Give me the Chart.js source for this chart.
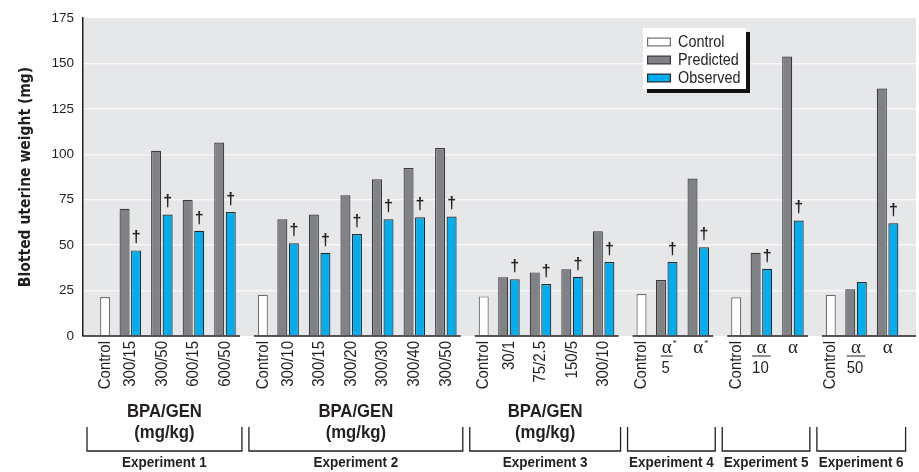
<!DOCTYPE html>
<html>
<head>
<meta charset="utf-8">
<script src="https://cdn.jsdelivr.net/npm/chart.js@4"></script>
<style>
html,body{margin:0;padding:0;background:#ffffff;}
#wrap{width:919px;height:472px;position:relative;}
canvas{display:block;}
</style>
</head>
<body>
<div id="wrap"><canvas id="chart" width="919" height="472"></canvas></div>
<script>
// ---------------- data ----------------
const experimentNames = ['Experiment 1', 'Experiment 2', 'Experiment 3', 'Experiment 4', 'Experiment 5', 'Experiment 6'];
const doseCaption = ['BPA/GEN', 'BPA/GEN', 'BPA/GEN', '', '', ''];
const doseUnit = '(mg/kg)';

const exp1Labels = ['Control', '300/15', '300/50', '600/15', '600/50'];
const exp2Labels = ['Control', '300/10', '300/15', '300/20', '300/30', '300/40', '300/50'];
const exp3Labels = ['Control', '30/1', '75/2.5', '150/5', '300/10'];
const exp4Labels = ['Control', 'α*/5', 'α*'];
const exp5Labels = ['Control', 'α/10', 'α'];
const exp6Labels = ['Control', 'α/50', 'α'];

const controlValues = [21.5, 22.7, 21.8, 23.1, 21.3, 22.7];

const predicted1 = [70.0, 101.9, 75.0, 106.5];
const observed1  = [47.1, 66.9, 57.9, 68.2];
const predicted2 = [64.2, 66.9, 77.4, 86.2, 92.4, 103.4];
const observed2  = [51.0, 45.8, 56.1, 64.2, 65.3, 65.8];
const predicted3 = [32.3, 35.0, 36.7, 57.6];
const observed3  = [31.2, 28.6, 32.6, 40.7];
const predicted4 = [30.8, 86.7];
const observed4  = [40.7, 48.8];
const predicted5 = [45.8, 153.8];
const observed5  = [37.0, 63.6];
const predicted6 = [25.7, 136.2];
const observed6  = [29.7, 62.0];

// † = observed significantly different from predicted
const dagger1 = [true, true, true, true];
const dagger2 = [true, true, true, true, true, true];
const dagger3 = [true, true, true, true];
const dagger4 = [true, true];
const dagger5 = [true, true];
const dagger6 = [false, true];

const yTicks = [0, 25, 50, 75, 100, 125, 150, 175];
const seriesNames = ['Control', 'Predicted', 'Observed'];
const yTitle = 'Blotted uterine weight (mg)';

// ---------------- build category slots ----------------
const groups = [
  {labels: exp1Labels, pred: predicted1, obs: observed1, dag: dagger1},
  {labels: exp2Labels, pred: predicted2, obs: observed2, dag: dagger2},
  {labels: exp3Labels, pred: predicted3, obs: observed3, dag: dagger3},
  {labels: exp4Labels, pred: predicted4, obs: observed4, dag: dagger4},
  {labels: exp5Labels, pred: predicted5, obs: observed5, dag: dagger5},
  {labels: exp6Labels, pred: predicted6, obs: observed6, dag: dagger6}
];
// spacing in category slots (layout only)
const SLOT = {lead: 3, toFirst: 4, step: 5, between: 6, trail: 4};
const slotIndex = [];
let cursor = SLOT.lead;
groups.forEach((g, e) => {
  if (e > 0) cursor += SLOT.between;
  const arr = [];
  g.labels.forEach((lab, k) => {
    if (k === 1) cursor += SLOT.toFirst;
    else if (k > 1) cursor += SLOT.step;
    arr.push(cursor);
  });
  slotIndex.push(arr);
});
const N = cursor + 1 + SLOT.trail;
const slotLabels = new Array(N).fill('');
const controlData = new Array(N).fill(null);
const predData = new Array(N).fill(null);
const obsData = new Array(N).fill(null);
groups.forEach((g, e) => {
  g.labels.forEach((lab, k) => { slotLabels[slotIndex[e][k]] = lab; });
  controlData[slotIndex[e][0]] = controlValues[e];
  g.pred.forEach((v, j) => { predData[slotIndex[e][j + 1]] = v; });
  g.obs.forEach((v, j) => { obsData[slotIndex[e][j + 1]] = v; });
});

// ---------------- styling ----------------
const SANS = '"Liberation Sans", Arial, sans-serif';
const COND = '"DejaVu Sans Condensed", "DejaVu Sans", sans-serif';
const SERIF = '"Liberation Serif", "DejaVu Serif", serif';
const INK = '#231f20';

// condensed text: Liberation Sans squeezed horizontally
function txt(ctx, s, x, y, o) {
  ctx.save();
  ctx.translate(x, y);
  if (o.rot) ctx.rotate(o.rot);
  ctx.scale(o.sx || 1, 1);
  ctx.font = o.font;
  ctx.textAlign = o.align || 'center';
  ctx.textBaseline = o.base || 'middle';
  ctx.fillStyle = INK;
  ctx.fillText(s, 0, 0);
  ctx.restore();
}

const exhibitPlugin = {
  id: 'exhibit',
  beforeDraw(chart) {
    const {ctx, chartArea: a} = chart;
    ctx.save();
    ctx.fillStyle = '#e6e7e8';
    ctx.fillRect(a.left, a.top, a.right - a.left, a.bottom - a.top);
    ctx.restore();
  },
  afterDraw(chart) {
    const {ctx, chartArea: a} = chart;
    const xs = chart.scales.x, ys = chart.scales.y;
    const y0 = ys.getPixelForValue(0);
    const px = (e, k) => xs.getPixelForValue(slotIndex[e][k]);
    const nE = groups.length;
    const mids = [];
    for (let e = 0; e < nE - 1; e++) {
      mids.push((px(e, groups[e].labels.length - 1) + px(e + 1, 0)) / 2);
    }
    ctx.save();
    // broken baseline
    ctx.strokeStyle = INK;
    ctx.lineWidth = 1.6;
    for (let e = 0; e < nE; e++) {
      const s = e === 0 ? a.left : mids[e - 1] + 10;
      const t = e === nE - 1 ? a.right : mids[e] - 4;
      ctx.beginPath(); ctx.moveTo(s, y0); ctx.lineTo(t, y0); ctx.stroke();
    }
    // daggers
    const obsMeta = chart.getDatasetMeta(2);
    groups.forEach((g, e) => {
      g.dag.forEach((flag, j) => {
        if (!flag) return;
        const el = obsMeta.data[slotIndex[e][j + 1]];
        txt(ctx, '\u2020', el.x, el.y - 8, {font: 'bold 16px ' + SANS, base: 'alphabetic'});
      });
    });
    // x labels
    const labTop = y0 + 5;
    groups.forEach((g, e) => {
      g.labels.forEach((lab, k) => {
        const x = px(e, k);
        if (lab.charAt(0) === 'α') {
          const star = lab.indexOf('*') >= 0;
          const parts = lab.replace('*', '').split('/');
          txt(ctx, 'α', x, y0 + 17, {font: '19px ' + SERIF, base: 'alphabetic'});
          if (star) txt(ctx, '*', x + 8, y0 + 8, {font: '9px ' + SERIF});
          if (parts.length > 1) {
            ctx.font = '17px ' + SANS;
            const w = Math.max(12, ctx.measureText(parts[1]).width * 0.88 + 2);
            ctx.strokeStyle = INK;
            ctx.lineWidth = 1;
            ctx.beginPath();
            ctx.moveTo(x - w / 2, y0 + 20); ctx.lineTo(x + w / 2, y0 + 20);
            ctx.stroke();
            txt(ctx, parts[1], x - 1, y0 + 32, {font: '17px ' + SANS, sx: 0.88});
          }
        } else {
          txt(ctx, lab, x, labTop, {font: '17px ' + SANS, sx: 0.88, rot: -Math.PI / 2, align: 'right'});
        }
      });
    });
    // brackets, captions, experiment names
    const bTop = y0 + 91, bBot = y0 + 115;
    ctx.strokeStyle = INK;
    ctx.lineWidth = 1.3;
    for (let e = 0; e < nE; e++) {
      const L = e === 0 ? a.left + 4 : mids[e - 1] + 5;
      const R = e === nE - 1 ? px(e, groups[e].labels.length - 1) + 18 : mids[e] - 2;
      ctx.beginPath();
      ctx.moveTo(L, bTop); ctx.lineTo(L, bBot); ctx.lineTo(R, bBot); ctx.lineTo(R, bTop);
      ctx.stroke();
      const c = (L + R) / 2;
      txt(ctx, experimentNames[e], c, y0 + 127, {font: 'bold 15px ' + SANS, sx: 0.9});
      if (doseCaption[e]) {
        txt(ctx, doseCaption[e], c, y0 + 76, {font: 'bold 19px ' + SANS, sx: 0.88});
        txt(ctx, doseUnit, c, y0 + 97, {font: 'bold 19px ' + SANS, sx: 0.88});
      }
    }
    // legend
    const lx = 643, ly = 28, lw = 103, lh = 61;
    ctx.fillStyle = '#111111';
    ctx.fillRect(lx + 4, ly + 4, lw, lh);
    ctx.fillStyle = '#ffffff';
    ctx.fillRect(lx, ly, lw, lh);
    chart.data.datasets.forEach((ds, i) => {
      const cy = ly + 14 + i * 18;
      ctx.fillStyle = ds.borderColor;
      ctx.fillRect(lx + 4, cy - 4.5, 24, 9);
      ctx.fillStyle = ds.backgroundColor;
      ctx.fillRect(lx + 5.2, cy - 3.3, 21.6, 6.6);
      txt(ctx, ds.label, lx + 35, cy + 0.5, {font: '16px ' + SANS, sx: 0.9, align: 'left'});
    });
    ctx.restore();
  }
};

const CP = 3.65;
new Chart(document.getElementById('chart'), {
  type: 'bar',
  data: {
    labels: slotLabels,
    datasets: [
      {label: seriesNames[0], data: controlData, backgroundColor: '#ffffff', borderColor: '#6d6e71',
       categoryPercentage: CP, barPercentage: 0.435},
      {label: seriesNames[1], data: predData, backgroundColor: '#808285', borderColor: '#3a3a3c',
       categoryPercentage: CP, barPercentage: 0.87},
      {label: seriesNames[2], data: obsData, backgroundColor: '#00aeef', borderColor: '#2a2a2a',
       categoryPercentage: CP, barPercentage: 0.87}
    ]
  },
  options: {
    responsive: false,
    animation: false,
    devicePixelRatio: 1,
    layout: {padding: {left: 0, right: 3, top: 18, bottom: 136}},
    datasets: {bar: {skipNull: true, borderWidth: 1.2, borderSkipped: 'start'}},
    plugins: {legend: {display: false}, tooltip: {enabled: false}},
    scales: {
      x: {display: false, offset: true},
      y: {
        min: yTicks[0], max: yTicks[yTicks.length - 1],
        afterBuildTicks: s => { s.ticks = yTicks.map(v => ({value: v})); },
        afterFit: s => { s.width = 83; },
        ticks: {font: {family: SANS, size: 13.5}, color: INK, padding: 9},
        grid: {
          drawTicks: false, lineWidth: 1.5,
          color: c => (c.tick && c.tick.value > yTicks[0] && c.tick.value < yTicks[yTicks.length - 1]) ? '#f8f8f9' : 'rgba(0,0,0,0)'
        },
        border: {display: true, color: INK, width: 1.5},
        title: {display: true, text: yTitle, color: INK, font: {family: COND, size: 15.5, weight: 'bold'}, padding: {top: 17, bottom: 0}}
      }
    }
  },
  plugins: [exhibitPlugin]
});
</script>
</body>
</html>
